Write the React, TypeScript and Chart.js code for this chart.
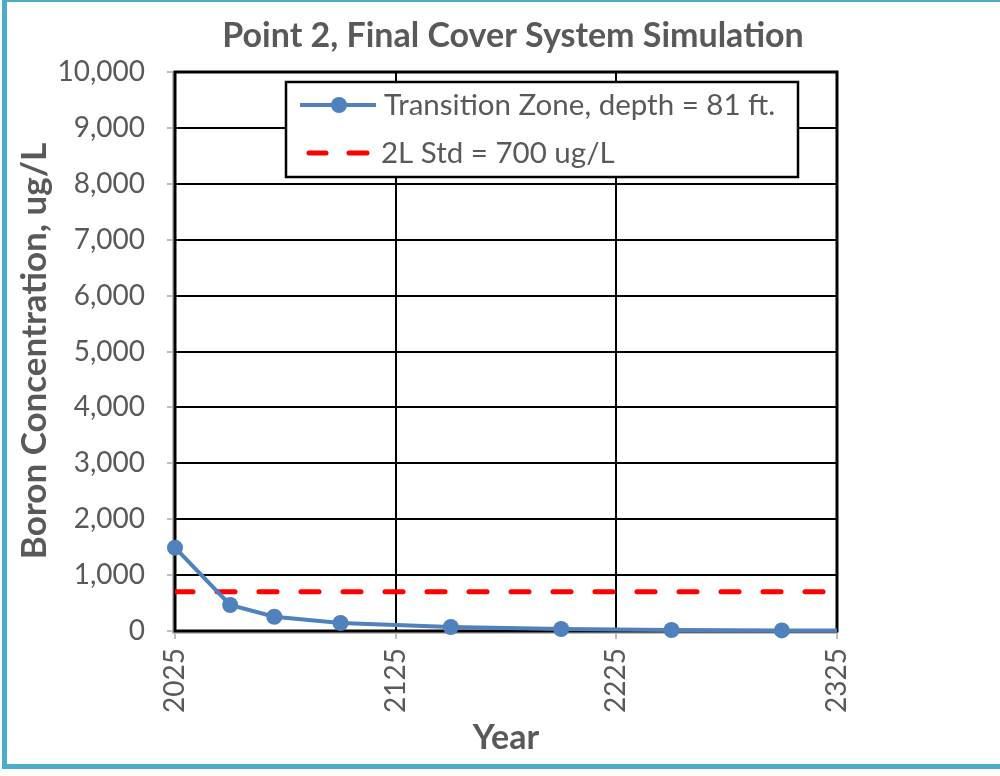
import React, { useEffect, useRef } from "react";
import { Chart, registerables } from "chart.js";

Chart.register(...registerables);

const chartTitle = "Point 2, Final Cover System Simulation";
const xTitle = "Year";
const yTitle = "Boron Concentration, ug/L";
const seriesName = "Transition Zone, depth = 81 ft.";
const stdName = "2L Std = 700 ug/L";
const years = [2025, 2050, 2070, 2100, 2150, 2200, 2250, 2300, 2325];
const boron = [1490, 465, 255, 143, 72, 36, 18, 11, 7];
const stdYears = [2025, 2325];
const stdValues = [700, 700];
const xTicks = [2025, 2125, 2225, 2325];
const yTicks = [0, 1000, 2000, 3000, 4000, 5000, 6000, 7000, 8000, 9000, 10000];

const FONT = "Lato, 'Open Sans', sans-serif";
const GRAY = "#595959";
const BLUE = "#4F81BD";
const RED = "#FF0000";

const overlay = {
  id: "overlay",
  beforeDatasetsDraw(chart: any) {
    const { ctx, chartArea: a } = chart;
    ctx.save();
    ctx.strokeStyle = "#BFBFBF";
    ctx.lineWidth = 2;
    ctx.beginPath();
    ctx.moveTo(a.left - 2, a.top);
    ctx.lineTo(a.left - 2, a.bottom + 2);
    ctx.lineTo(a.right, a.bottom + 2);
    ctx.stroke();
    ctx.strokeStyle = "#000";
    ctx.lineWidth = 3;
    ctx.strokeRect(a.left, a.top, a.right - a.left, a.bottom - a.top);
    ctx.restore();
  },
  afterDraw(chart: any) {
    const { ctx, chartArea: a } = chart;
    ctx.save();
    ctx.fillStyle = GRAY;
    ctx.textAlign = "center";
    ctx.textBaseline = "middle";
    ctx.font = `bold 34px ${FONT}`;
    ctx.fillText(chartTitle, 513, 36);
    ctx.fillText(xTitle, (a.left + a.right) / 2, 738);
    ctx.save();
    ctx.translate(35, 351);
    ctx.rotate(-Math.PI / 2);
    ctx.font = `bold 35px ${FONT}`;
    ctx.fillText(yTitle, 0, 0);
    ctx.restore();

    const lx = 286, ly = 82, lw = 512, lh = 95;
    ctx.fillStyle = "#fff";
    ctx.fillRect(lx, ly, lw, lh);
    ctx.strokeStyle = "#000";
    ctx.lineWidth = 2.5;
    ctx.strokeRect(lx, ly, lw, lh);

    const r1 = 105, r2 = 153;
    ctx.strokeStyle = BLUE;
    ctx.lineWidth = 4;
    ctx.beginPath();
    ctx.moveTo(300, r1);
    ctx.lineTo(376, r1);
    ctx.stroke();
    ctx.fillStyle = BLUE;
    ctx.beginPath();
    ctx.arc(339, r1, 8, 0, Math.PI * 2);
    ctx.fill();

    ctx.strokeStyle = RED;
    ctx.lineWidth = 5;
    ctx.lineCap = "round";
    ctx.beginPath();
    ctx.moveTo(309, r2);
    ctx.lineTo(326, r2);
    ctx.moveTo(349, r2);
    ctx.lineTo(367, r2);
    ctx.stroke();

    ctx.fillStyle = GRAY;
    ctx.textAlign = "left";
    ctx.font = `29.5px ${FONT}`;
    ctx.fillText(seriesName, 384, r1);
    ctx.fillText(stdName, 381, r2);
    ctx.restore();
  },
};

export default function App() {
  const ref = useRef<HTMLCanvasElement | null>(null);
  useEffect(() => {
    if (!ref.current) return;
    const last = years.length - 1;
    const chart = new Chart(ref.current, {
      type: "line",
      data: {
        datasets: [
          {
            label: stdName,
            data: stdYears.map((x, i) => ({ x, y: stdValues[i] })),
            borderColor: RED,
            borderWidth: 5,
            borderDash: [18, 24],
            borderCapStyle: "round",
            pointRadius: 0,
            order: 2,
          },
          {
            label: seriesName,
            data: years.map((x, i) => ({ x, y: boron[i] })),
            borderColor: BLUE,
            backgroundColor: BLUE,
            borderWidth: 4,
            pointRadius: years.map((_, i) => (i === last ? 0 : 8)),
            pointBorderWidth: 0,
            pointBackgroundColor: BLUE,
            tension: 0,
            clip: false,
            order: 1,
          },
        ],
      },
      options: {
        animation: false,
        responsive: false,
        maintainAspectRatio: false,
        layout: { padding: { left: 0, right: 163, top: 72, bottom: 0 } },
        plugins: {
          legend: { display: false },
          title: { display: false },
          tooltip: { enabled: false },
        },
        scales: {
          x: {
            type: "linear",
            min: 2025,
            max: 2325,
            afterBuildTicks: (s: any) => {
              s.ticks = xTicks.map((v) => ({ value: v }));
            },
            afterFit: (s: any) => {
              s.height = 776 - 631;
            },
            grid: {
              color: "#000",
              lineWidth: 2,
              tickLength: 8,
              tickColor: "#BFBFBF",
              tickWidth: 2,
            },
            border: { display: false },
            ticks: {
              autoSkip: false,
              minRotation: 90,
              maxRotation: 90,
              padding: 9,
              color: GRAY,
              font: { family: FONT, size: 28 },
              callback: (v: any) => String(v),
            },
          },
          y: {
            type: "linear",
            min: 0,
            max: 10000,
            afterBuildTicks: (s: any) => {
              s.ticks = yTicks.map((v) => ({ value: v }));
            },
            afterFit: (s: any) => {
              s.width = 175;
            },
            grid: {
              color: "#000",
              lineWidth: 2,
              tickLength: 8,
              tickColor: "#BFBFBF",
              tickWidth: 2,
            },
            border: { display: false },
            ticks: {
              padding: 22,
              color: GRAY,
              font: { family: FONT, size: 28 },
              callback: (v: any) => Number(v).toLocaleString("en-US"),
            },
          },
        },
      },
      plugins: [overlay],
    } as any);
    return () => chart.destroy();
  }, []);

  return (
    <div style={{ position: "fixed", left: 0, top: 0, width: 1000, height: 776, background: "#fff" }}>
      <canvas ref={ref} width={1000} height={776} style={{ position: "absolute", left: 0, top: 0 }} />
      <div
        style={{
          position: "absolute",
          left: 2,
          top: -3,
          width: 1020,
          height: 772,
          boxSizing: "border-box",
          border: "5px solid #4BACC6",
          pointerEvents: "none",
        }}
      />
    </div>
  );
}
